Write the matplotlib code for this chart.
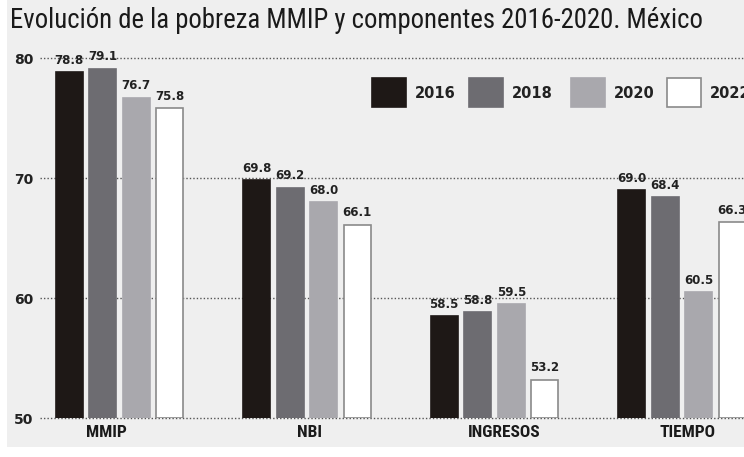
import matplotlib
matplotlib.use("Agg")
import matplotlib.pyplot as plt
from matplotlib.patches import Rectangle
from matplotlib import font_manager
import numpy as np

categories = ["MMIP", "NBI", "INGRESOS", "TIEMPO"]
years = ["2016", "2018", "2020", "2022"]
v2016 = [78.8, 69.8, 58.5, 69.0]
v2018 = [79.1, 69.2, 58.8, 68.4]
v2020 = [76.7, 68.0, 59.5, 60.5]
v2022 = [75.8, 66.1, 53.2, 66.3]
yticks = [50, 60, 70, 80]
title = "Evolución de la pobreza MMIP y componentes 2016-2020. México"

series = [v2016, v2018, v2020, v2022]
colors = ["#1e1816", "#6d6c71", "#a9a8ad", "#ffffff"]
edges = ["#1e1816", "#6d6c71", "#a9a8ad", "#8a8a8a"]

names = {f.name for f in font_manager.fontManager.ttflist}
has_cond = "Roboto Condensed" in names
cond = ["Roboto Condensed", "Roboto", "DejaVu Sans"] if has_cond else ["Roboto", "DejaVu Sans"]

W, H = 744, 457
fig = plt.figure(figsize=(W / 100, H / 100), dpi=100)
fig.patch.set_facecolor("white")
bg = "#efefef"
fig.add_artist(Rectangle((7 / W, 10 / H), 1, 1, transform=fig.transFigure,
                         facecolor=bg, edgecolor="none", zorder=-10))

ax_l, ax_r = 40, 744
ax_b, ax_t = 418, 40
ax = fig.add_axes([ax_l / W, (H - ax_b) / H, (ax_r - ax_l) / W, (ax_b - ax_t) / H])
ax.set_facecolor("none")
pitch = 187.5
x0 = 119.5
ax.set_xlim((ax_l - x0) / pitch, (ax_r - x0) / pitch)
ax.set_ylim(50, 50 + (ax_b - ax_t) / 12.0)

bw = 27 / pitch
step = 33.5 / pitch
xs = np.arange(len(categories))
for i, vals in enumerate(series):
    pos = xs + (i - 1.5) * step
    ax.bar(pos, np.array(vals) - 50, bottom=50, width=bw, color=colors[i],
           edgecolor=edges[i], linewidth=1.2, zorder=3)
    for p, v in zip(pos, vals):
        ax.text(p, v + 0.45, f"{v:.1f}", ha="center", va="bottom", fontsize=8.5,
                fontweight="bold", color="#222222", family="DejaVu Sans", zorder=4)

for y in yticks:
    ax.axhline(y, color="#555555", linestyle=(0, (1, 1.5)), linewidth=1.0,
               zorder=1 if y != 50 else 2, clip_on=False)
ax.set_yticks(yticks)
ax.set_yticklabels([str(t) for t in yticks], fontsize=10, fontweight="bold",
                   family="DejaVu Sans", color="#222222")
ax.tick_params(axis="y", length=0, pad=5)

# category labels (slightly off-centre as in the original)
label_shift_px = [-13, 2, 10, 5]
ax.set_xticks(xs + np.array(label_shift_px) / pitch)
ax.set_xticklabels(categories, fontsize=12.5 if has_cond else 11, fontweight="bold",
                   family=cond, color="#1a1a1a")
ax.tick_params(axis="x", length=0, pad=5)
for s in ax.spines.values():
    s.set_visible(False)

# legend
lx = [372, 469, 571, 667]
for i, yr in enumerate(years):
    fig.add_artist(Rectangle((lx[i] / W, (H - 107) / H), 34 / W, 29 / H,
                             transform=fig.transFigure, facecolor=colors[i],
                             edgecolor=edges[i], linewidth=1.2, zorder=5))
    fig.text((lx[i] + 43) / W, (H - 93) / H, yr, ha="left", va="center",
             fontsize=10.5, fontweight="bold", family="DejaVu Sans", color="#222222")

fig.text(10 / W, (H - 21) / H, title, ha="left", va="center",
         fontsize=19.3 if has_cond else 17.2, family=cond, color="#1a1a1a")

fig.savefig("out.png", dpi=100, facecolor=fig.get_facecolor())
